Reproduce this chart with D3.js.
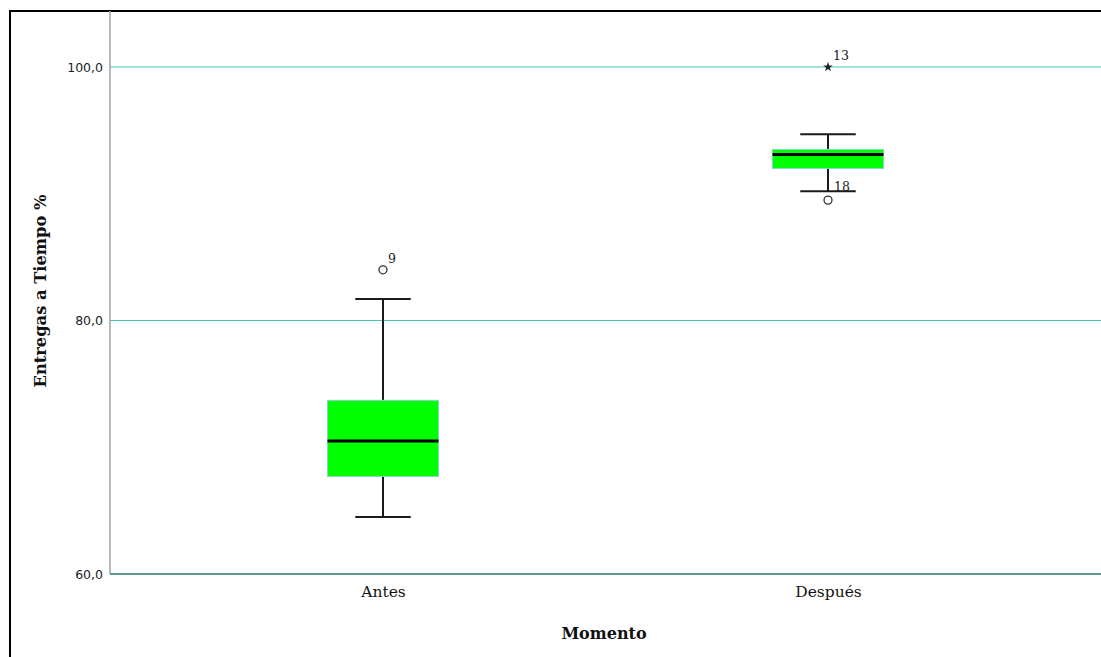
<!DOCTYPE html>
<html>
<head>
<meta charset="utf-8">
<script src="https://cdn.jsdelivr.net/npm/d3@7"></script>
<style>
  html, body { margin: 0; padding: 0; background: #fff; overflow: hidden; }
  svg { display: block; }
</style>
</head>
<body>
<svg id="chart" width="1101" height="657"></svg>
<script>
// Box plot summaries for on-time deliveries (%) before and after
const categories = ["Antes", "Después"];
const lowerWhisker = [64.5, 90.2];
const q1 = [67.7, 92.0];
const median = [70.5, 93.1];
const q3 = [73.7, 93.5];
const upperWhisker = [81.7, 94.7];
// Outliers: category, value, case label, marker kind
const outlierCategory = ["Antes", "Después", "Después"];
const outlierValue = [84.0, 89.5, 100.0];
const outlierLabel = ["9", "18", "13"];
const outlierKind = ["circle", "circle", "star"];
const yTicks = [60, 80, 100];

const svg = d3.select("#chart");
const W = 1101, H = 657;
const plotLeft = 110, plotRight = 1101, plotTop = 11, plotBottom = 574;
const boxWidth = 111;

// outer frame (runs past the right and bottom edges)
svg.append("path")
  .attr("d", `M10,${H + 5} L10,11 L${W + 5},11`)
  .attr("fill", "none").attr("stroke", "#000").attr("stroke-width", 2);

const y = d3.scaleLinear().domain([60, 100]).range([plotBottom, 67]);
const x = d3.scalePoint().domain(categories).range([plotLeft, plotRight]).padding(0.6135);

// gridlines
svg.append("g").selectAll("line").data(yTicks.filter(d => d > 60)).join("line")
  .attr("x1", plotLeft).attr("x2", plotRight)
  .attr("y1", d => y(d)).attr("y2", d => y(d))
  .attr("stroke", "#45c6b4").attr("stroke-width", 1.2);

// y axis
const yAxis = d3.axisLeft(y).tickValues(yTicks).tickSize(0).tickPadding(7)
  .tickFormat(d => d3.format(".1f")(d).replace(".", ","));
const gy = svg.append("g").attr("transform", `translate(${plotLeft},0)`).call(yAxis);
gy.select(".domain").remove();
gy.selectAll("text").attr("font-family", "DejaVu Sans, sans-serif").attr("font-size", 12.5).attr("fill", "#222");
svg.append("line").attr("x1", plotLeft).attr("x2", plotLeft).attr("y1", plotTop).attr("y2", plotBottom)
  .attr("stroke", "#a0a0a0").attr("stroke-width", 1.5);

// x axis
const xAxis = d3.axisBottom(x).tickSize(0).tickPadding(12);
const gx = svg.append("g").attr("transform", `translate(0,${plotBottom})`).call(xAxis);
gx.select(".domain").remove();
gx.selectAll("text").attr("font-family", "DejaVu Serif, serif").attr("font-size", 15.5).attr("fill", "#111");
svg.append("line").attr("x1", plotLeft).attr("x2", plotRight).attr("y1", plotBottom).attr("y2", plotBottom)
  .attr("stroke", "#5a9a96").attr("stroke-width", 2);

// axis titles
svg.append("text")
  .attr("transform", `translate(46,291) rotate(-90)`)
  .attr("text-anchor", "middle")
  .attr("font-family", "DejaVu Serif, serif").attr("font-weight", "bold").attr("font-size", 16.3)
  .attr("fill", "#111")
  .text("Entregas a Tiempo %");
svg.append("text")
  .attr("x", 604).attr("y", 639)
  .attr("text-anchor", "middle")
  .attr("font-family", "DejaVu Serif, serif").attr("font-weight", "bold").attr("font-size", 16)
  .attr("fill", "#111")
  .text("Momento");

// boxes
const boxes = categories.map((c, i) => ({
  c, lw: lowerWhisker[i], q1: q1[i], med: median[i], q3: q3[i], uw: upperWhisker[i]
}));
const g = svg.append("g");
boxes.forEach(b => {
  const cx = x(b.c);
  const x0 = cx - boxWidth / 2;
  // whisker stems
  g.append("line").attr("x1", cx).attr("x2", cx).attr("y1", y(b.q3)).attr("y2", y(b.uw))
    .attr("stroke", "#1a1a1a").attr("stroke-width", 2);
  g.append("line").attr("x1", cx).attr("x2", cx).attr("y1", y(b.q1)).attr("y2", y(b.lw))
    .attr("stroke", "#1a1a1a").attr("stroke-width", 2);
  // caps
  [b.uw, b.lw].forEach(v => {
    g.append("line").attr("x1", cx - boxWidth / 4).attr("x2", cx + boxWidth / 4)
      .attr("y1", y(v)).attr("y2", y(v))
      .attr("stroke", "#1a1a1a").attr("stroke-width", 2);
  });
  // box
  g.append("rect").attr("x", x0).attr("width", boxWidth)
    .attr("y", y(b.q3)).attr("height", y(b.q1) - y(b.q3))
    .attr("fill", "#00ff00").attr("stroke", "#7fd8c8").attr("stroke-width", 1);
  // median
  g.append("line").attr("x1", x0).attr("x2", x0 + boxWidth)
    .attr("y1", y(b.med)).attr("y2", y(b.med))
    .attr("stroke", "#000").attr("stroke-width", 3);
});

// outliers and extremes with case numbers
outlierCategory.forEach((c, i) => {
  const cx = x(c);
  const cy = y(outlierValue[i]);
  const below = outlierValue[i] < median[categories.indexOf(c)];
  if (outlierKind[i] === "circle") {
    g.append("circle").attr("cx", cx).attr("cy", cy).attr("r", 4)
      .attr("fill", "#fff").attr("stroke", "#333").attr("stroke-width", 1.3);
  } else {
    g.append("path").attr("transform", `translate(${cx},${cy})`)
      .attr("d", d3.symbol(d3.symbolStar, 30)())
      .attr("fill", "#222");
  }
  g.append("text")
    .attr("x", cx + (below ? 6 : 5))
    .attr("y", below ? cy - 9 : cy - 7)
    .attr("font-family", "DejaVu Serif, serif").attr("font-size", 12.5).attr("fill", "#222")
    .text(outlierLabel[i]);
});
</script>
</body>
</html>
